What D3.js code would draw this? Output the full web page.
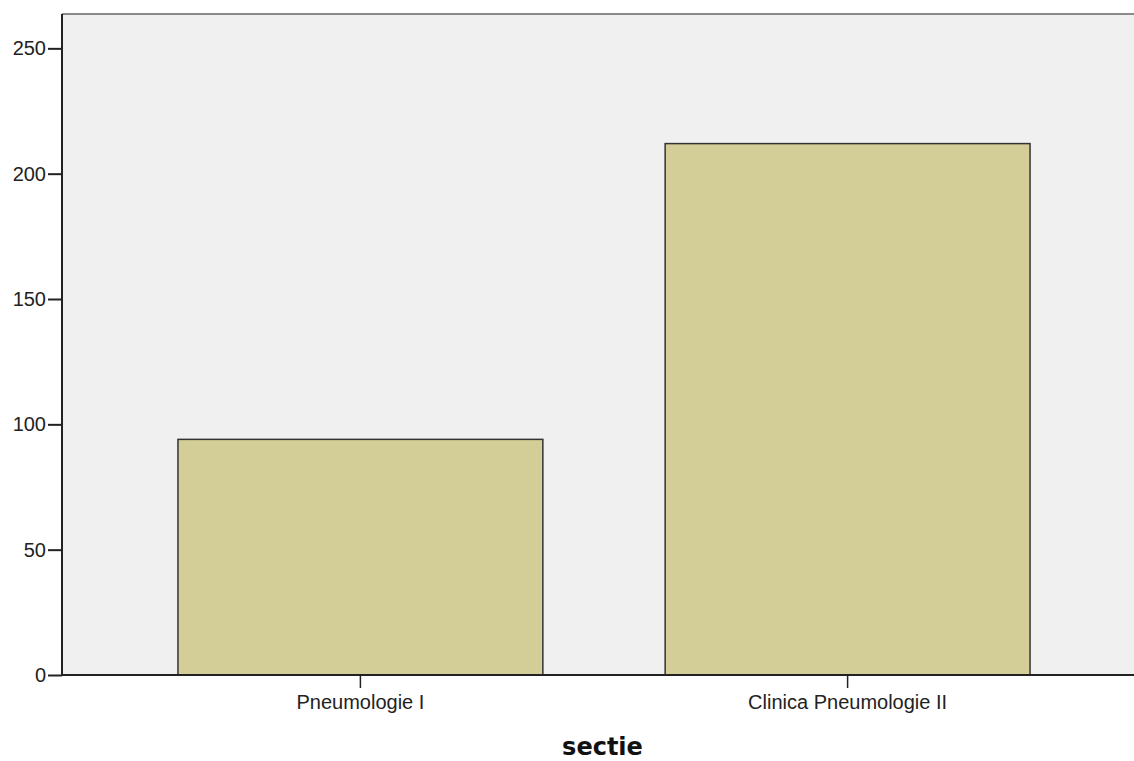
<!DOCTYPE html>
<html><head><meta charset="utf-8">
<script src="https://cdn.jsdelivr.net/npm/d3@7"></script>
<style>
body{margin:0;background:#fff;}
svg{display:block;}
</style></head>
<body><svg id="c" width="1134" height="761"></svg>
<script>
const categories = ["Pneumologie I", "Clinica Pneumologie II"];
const counts = [94, 212];
const yTicks = [0, 50, 100, 150, 200, 250];
const xTitle = "sectie";

const svg = d3.select("#c");
const L = 62, T = 14, R = 1146, B = 675;

const x = d3.scaleBand().domain(categories).range([L, R]).paddingInner(0.251).paddingOuter(0.238);
const y = d3.scaleLinear().domain([0, 263.7]).range([B, T]);

svg.append("rect").attr("x", L).attr("y", T).attr("width", R - L).attr("height", B - T).attr("fill", "#f0f0f0");
svg.append("line").attr("x1", L).attr("x2", R).attr("y1", T).attr("y2", T).attr("stroke", "#8a8a8a").attr("stroke-width", 2);

svg.selectAll("rect.bar").data(counts).enter().append("rect")
  .attr("class", "bar")
  .attr("x", (d, i) => x(categories[i]))
  .attr("width", x.bandwidth())
  .attr("y", d => y(d))
  .attr("height", d => B - y(d))
  .attr("fill", "#d3ce97").attr("stroke", "#333").attr("stroke-width", 1.5);

const ya = svg.append("g").attr("transform", `translate(${L},0)`)
  .call(d3.axisLeft(y).tickValues(yTicks).tickSize(14).tickPadding(2));
const xa = svg.append("g").attr("transform", `translate(0,${B})`)
  .call(d3.axisBottom(x).tickSize(13).tickPadding(7));
[ya, xa].forEach(a => {
  a.select(".domain").attr("stroke", "#222").attr("stroke-width", 2);
  a.selectAll(".tick line").attr("stroke", "#222").attr("stroke-width", 2);
  a.selectAll(".tick text").attr("fill", "#222").style("font-family", "'Liberation Sans', Arial, sans-serif").style("font-size", "20px");
});
xa.selectAll(".tick line").attr("stroke-width", 1.5);
ya.select(".domain").attr("d", `M0,${B}V${T}`);
xa.select(".domain").attr("d", `M${L},0H${R}`);

svg.append("text").attr("x", 602.5).attr("y", 755).attr("text-anchor", "middle")
  .style("font-family", "'DejaVu Sans', sans-serif").style("font-weight", "bold").style("font-size", "24px")
  .attr("fill", "#111").text(xTitle);
</script></body></html>
